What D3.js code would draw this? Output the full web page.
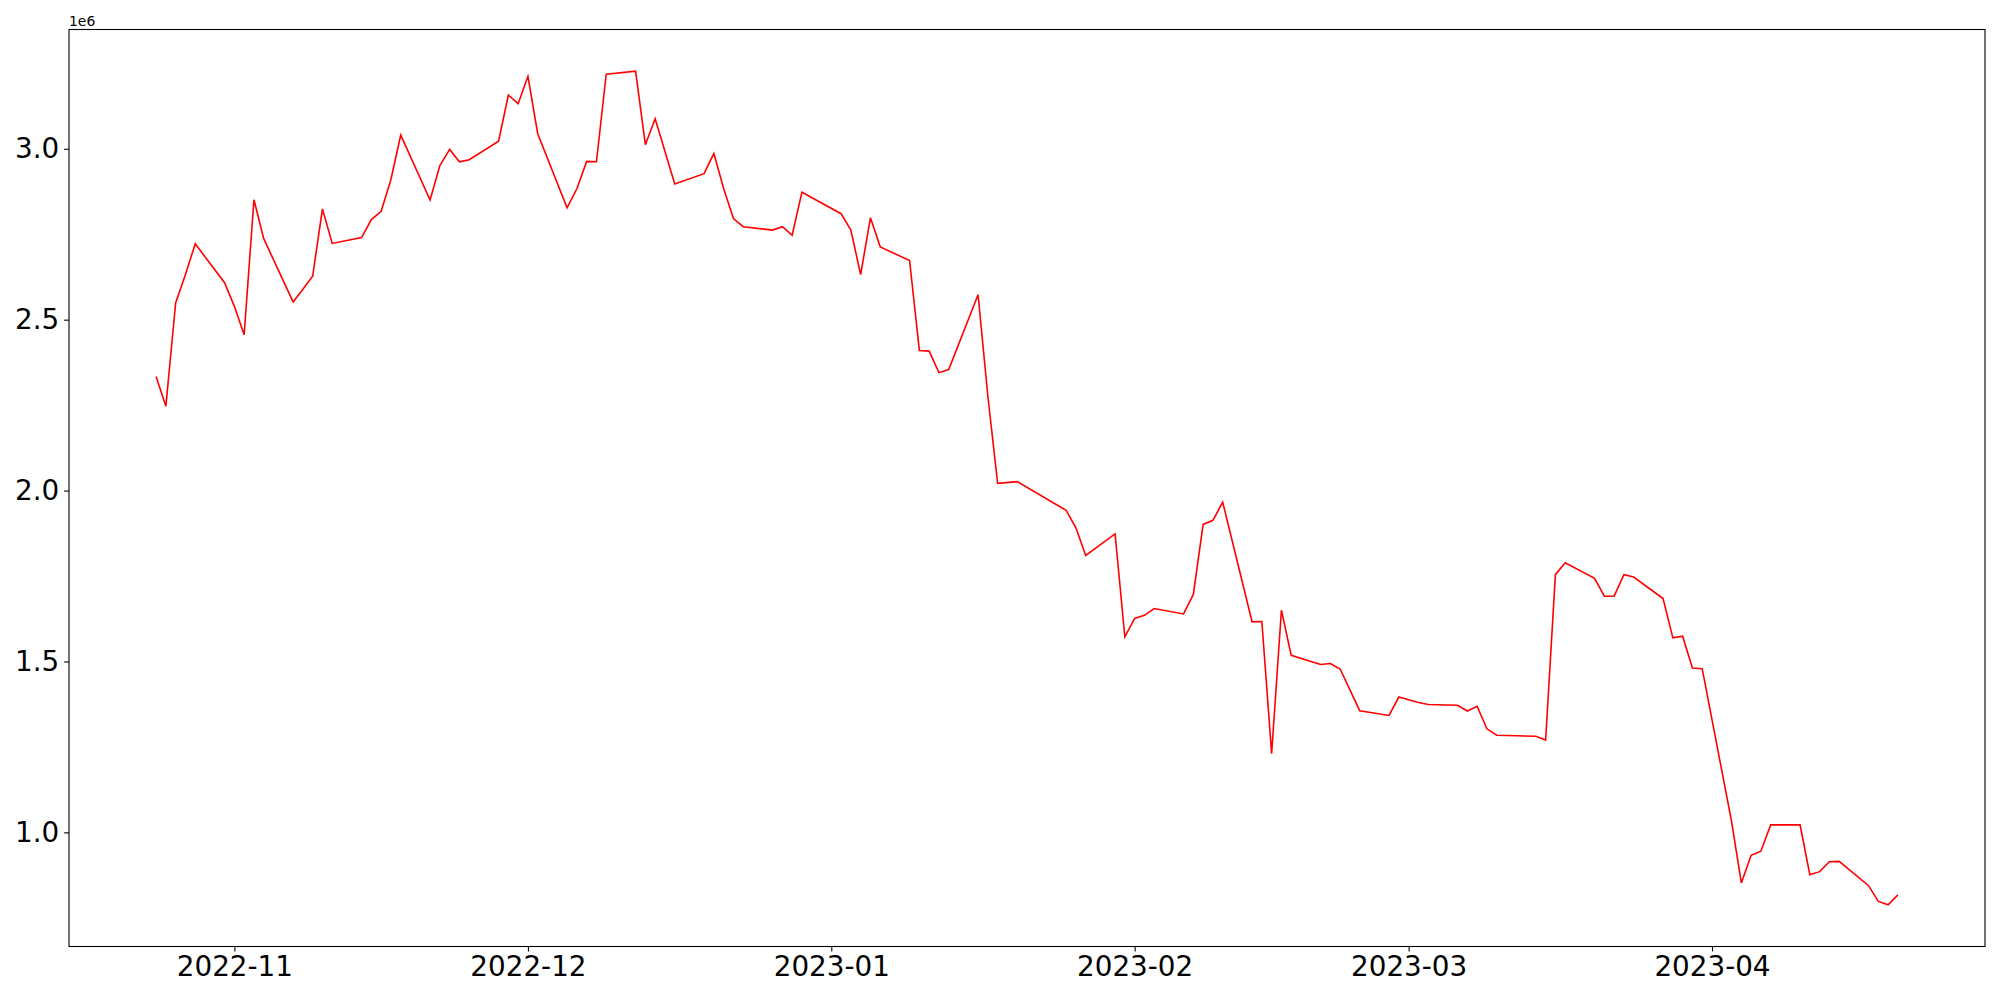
<!DOCTYPE html>
<html>
<head>
<meta charset="utf-8">
<script src="https://cdn.jsdelivr.net/npm/d3@7"></script>
<style>
  body { margin: 0; background: #fff; }
  svg { display: block; font-family: "DejaVu Sans", sans-serif; }
  .axis path, .axis line { stroke: #000; stroke-width: 1.1; }
  .axis text { fill: #000; font-size: 27.8px; font-family: "DejaVu Sans", sans-serif; }
</style>
</head>
<body>
<svg id="chart"></svg>
<script>
var dates = [
  "2022-10-24","2022-10-25","2022-10-26","2022-10-27","2022-10-28",
  "2022-10-31","2022-11-01","2022-11-02","2022-11-03","2022-11-04",
  "2022-11-07","2022-11-08","2022-11-09","2022-11-10","2022-11-11",
  "2022-11-14","2022-11-15","2022-11-16","2022-11-17","2022-11-18",
  "2022-11-21","2022-11-22","2022-11-23","2022-11-24","2022-11-25",
  "2022-11-28","2022-11-29","2022-11-30","2022-12-01","2022-12-02",
  "2022-12-05","2022-12-06","2022-12-07","2022-12-08","2022-12-09",
  "2022-12-12","2022-12-13","2022-12-14","2022-12-15","2022-12-16",
  "2022-12-19","2022-12-20","2022-12-21","2022-12-22","2022-12-23",
  "2022-12-26","2022-12-27","2022-12-28","2022-12-29",
  "2023-01-02","2023-01-03","2023-01-04","2023-01-05","2023-01-06",
  "2023-01-09","2023-01-10","2023-01-11","2023-01-12","2023-01-13",
  "2023-01-16","2023-01-17","2023-01-18","2023-01-20",
  "2023-01-25","2023-01-26","2023-01-27",
  "2023-01-30","2023-01-31","2023-02-01","2023-02-02","2023-02-03",
  "2023-02-06","2023-02-07","2023-02-08","2023-02-09","2023-02-10",
  "2023-02-13","2023-02-14","2023-02-15","2023-02-16","2023-02-17",
  "2023-02-20","2023-02-21","2023-02-22","2023-02-24",
  "2023-02-27","2023-02-28","2023-03-01","2023-03-02","2023-03-03",
  "2023-03-06","2023-03-07","2023-03-08","2023-03-09","2023-03-10",
  "2023-03-14","2023-03-15","2023-03-16","2023-03-17",
  "2023-03-20","2023-03-21","2023-03-22","2023-03-23","2023-03-24",
  "2023-03-27","2023-03-28","2023-03-29","2023-03-30","2023-03-31",
  "2023-04-03","2023-04-04","2023-04-05","2023-04-06","2023-04-07",
  "2023-04-10","2023-04-11","2023-04-12","2023-04-13","2023-04-14",
  "2023-04-17","2023-04-18","2023-04-19","2023-04-20"
];

var values = [
  2334000, 2247000, 2549000, 2632000, 2722000,
  2608000, 2539000, 2456000, 2851000, 2737000,
  2552000, 2589000, 2627000, 2824000, 2723000,
  2740000, 2793000, 2817000, 2910000, 3040000,
  2850000, 2951000, 2998000, 2962000, 2968000,
  3022000, 3157000, 3132000, 3212000, 3044000,
  2827000, 2883000, 2963000, 2962000, 3218000,
  3227000, 3012000, 3088000, 2993000, 2897000,
  2927000, 2986000, 2884000, 2796000, 2772000,
  2762000, 2772000, 2747000, 2873000,
  2810000, 2762000, 2632000, 2798000, 2713000,
  2673000, 2410000, 2408000, 2345000, 2354000,
  2573000, 2276000, 2021000, 2026000,
  1942000, 1891000, 1810000,
  1873000, 1572000, 1626000, 1635000, 1655000,
  1639000, 1696000, 1901000, 1913000, 1966000,
  1616000, 1617000, 1230000, 1650000, 1518000,
  1491000, 1494000, 1478000, 1356000,
  1342000, 1396000, 1388000, 1380000, 1374000,
  1372000, 1355000, 1369000, 1303000, 1284000,
  1281000, 1270000, 1754000, 1789000,
  1743000, 1691000, 1691000, 1754000, 1747000,
  1684000, 1569000, 1574000, 1481000, 1479000,
  1032000, 852000, 933000, 945000, 1022000,
  1022000, 876000, 885000, 914000, 915000,
  844000, 798000, 788000, 817000
];

var monthTicks = ["2022-11-01","2022-12-01","2023-01-01","2023-02-01","2023-03-01","2023-04-01"];
var yTicks = [1000000, 1500000, 2000000, 2500000, 3000000];

var parseDate = d3.utcParse("%Y-%m-%d");
var data = dates.map(function(d, i) { return { date: parseDate(d), value: values[i] }; });

var totalWidth = 2000, totalHeight = 1000;
var margin = { top: 29.5, right: 15, bottom: 53.5, left: 69 },
    width = totalWidth - margin.left - margin.right,
    height = totalHeight - margin.top - margin.bottom;

// matplotlib-style 5% margins on both axes
var xExt = d3.extent(data, function(d) { return +d.date; });
var xPad = (xExt[1] - xExt[0]) * 0.05;
var yExt = d3.extent(data, function(d) { return d.value; });
var yPad = (yExt[1] - yExt[0]) * 0.05;

var x = d3.scaleUtc()
    .domain([new Date(xExt[0] - xPad), new Date(xExt[1] + xPad)])
    .range([0, width]);

var y = d3.scaleLinear()
    .domain([yExt[0] - yPad, yExt[1] + yPad])
    .range([height, 0]);

var svg = d3.select("#chart")
    .attr("width", totalWidth)
    .attr("height", totalHeight)
    .append("g")
    .attr("transform", "translate(" + margin.left + "," + margin.top + ")");

var xAxis = d3.axisBottom(x)
    .tickValues(monthTicks.map(parseDate))
    .tickFormat(d3.utcFormat("%Y-%m"))
    .tickSizeInner(4.9)
    .tickSizeOuter(0)
    .tickPadding(4.9);

var yAxis = d3.axisLeft(y)
    .tickValues(yTicks)
    .tickFormat(function(d) { return (d / 1e6).toFixed(1); })
    .tickSizeInner(4.9)
    .tickSizeOuter(0)
    .tickPadding(4.9);

var line = d3.line()
    .x(function(d) { return x(d.date); })
    .y(function(d) { return y(d.value); });

svg.append("path")
    .datum(data)
    .attr("fill", "none")
    .attr("stroke", "#ff0000")
    .attr("stroke-width", 1.6)
    .attr("stroke-linejoin", "miter")
    .attr("d", line);

svg.append("g")
    .attr("class", "x axis")
    .attr("transform", "translate(0," + height + ")")
    .call(xAxis)
    .select(".domain").remove();

svg.append("g")
    .attr("class", "y axis")
    .call(yAxis)
    .select(".domain").remove();

// frame
svg.append("rect")
    .attr("width", width)
    .attr("height", height)
    .attr("fill", "none")
    .attr("stroke", "#000")
    .attr("stroke-width", 1.1);

// offset text
svg.append("text")
    .attr("x", 0)
    .attr("y", -4)
    .attr("font-size", "13.9px")
    .attr("fill", "#000")
    .text("1e6");
</script>
</body>
</html>
